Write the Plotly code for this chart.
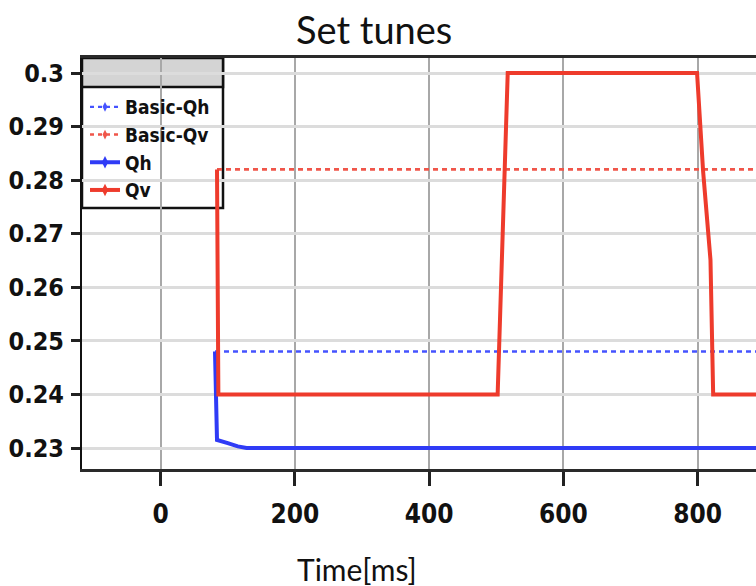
import plotly.graph_objects as go

# ---- data ----
basic_qh_x = [81, 890]
basic_qh_y = [0.248, 0.248]
basic_qv_x = [84, 890]
basic_qv_y = [0.282, 0.282]
qh_x = [81, 84, 100, 115, 128, 890]
qh_y = [0.248, 0.2315, 0.2309, 0.2303, 0.2300, 0.2300]
qv_x = [84, 86, 502, 517, 799, 808, 819, 823, 890]
qv_y = [0.282, 0.240, 0.240, 0.300, 0.300, 0.2817, 0.2651, 0.240, 0.240]

x_ticks = [0, 200, 400, 600, 800]
y_ticks = [0.23, 0.24, 0.25, 0.26, 0.27, 0.28, 0.29, 0.3]
y_tick_text = ["0.23", "0.24", "0.25", "0.26", "0.27", "0.28", "0.29", "0.3"]

BLUE = "#2f3bf6"
RED = "#ee3b2c"
DBLUE = "#4553ff"
DRED = "#f0564a"
TICKFONT = "DejaVu Sans Condensed, DejaVu Sans, sans-serif"
TITLEFONT = "Lato, Open Sans, sans-serif"

fig = go.Figure()
# data traces
fig.add_trace(go.Scatter(x=basic_qh_x, y=basic_qh_y, mode="lines", showlegend=False,
                         line=dict(color=DBLUE, width=2.6, dash="5px,4px")))
fig.add_trace(go.Scatter(x=basic_qv_x, y=basic_qv_y, mode="lines", showlegend=False,
                         line=dict(color=DRED, width=2.8, dash="5px,4px")))
fig.add_trace(go.Scatter(x=qh_x, y=qh_y, mode="lines", showlegend=False,
                         line=dict(color=BLUE, width=4)))
fig.add_trace(go.Scatter(x=qv_x, y=qv_y, mode="lines", showlegend=False,
                         line=dict(color=RED, width=4)))

# legend entries
legend_specs = [
    ("Basic-Qh", DBLUE, 2.4, "4px,4px", 7),
    ("Basic-Qv", DRED, 2.4, "4px,4px", 7),
    ("Qh", BLUE, 4, "solid", 9),
    ("Qv", RED, 4, "solid", 9),
]
for name, col, w, dash, ms in legend_specs:
    fig.add_trace(go.Scatter(x=[None], y=[None], mode="lines+markers", name=name,
                             line=dict(color=col, width=w, dash=dash),
                             marker=dict(symbol="diamond-tall", size=ms, color=col)))

# plot geometry (pixels)
W, H = 756, 586
L, T, R, B = 82, 58, 756, 469

def px(xp):
    return (xp - L) / (R - L)

def py(yp):
    return (B - yp) / (B - T)

shapes = [
    dict(type="rect", xref="paper", yref="paper", x0=px(82), x1=px(223), y0=py(208), y1=py(58),
         fillcolor="white", line=dict(color="#111", width=2.5), layer="below"),
    dict(type="rect", xref="paper", yref="paper", x0=px(82), x1=px(223), y0=py(87), y1=py(58),
         fillcolor="#d4d4d4", line=dict(color="#111", width=2.5), layer="below"),
]

annotations = [
    dict(text="Set tunes", xref="paper", yref="paper", x=px(374), y=py(29),
         showarrow=False, xanchor="center", yanchor="middle",
         font=dict(family=TITLEFONT, size=38, color="#111")),
    dict(text="Time[ms]", xref="paper", yref="paper", x=px(357), y=py(569),
         showarrow=False, xanchor="center", yanchor="middle",
         font=dict(family=TITLEFONT, size=30, color="#111")),
]

fig.update_layout(
    width=W, height=H,
    margin=dict(l=L, t=T, r=W - R, b=H - B, pad=0),
    paper_bgcolor="white", plot_bgcolor="white",
    showlegend=True,
    legend=dict(x=px(85), y=py(88), xanchor="left", yanchor="top",
                bgcolor="rgba(0,0,0,0)", borderwidth=0,
                font=dict(family=TICKFONT, size=19, color="#111", weight="bold"),
                tracegroupgap=0, itemwidth=30),
    shapes=shapes, annotations=annotations,
    xaxis=dict(range=[-117.1, 886.8], tickvals=x_ticks, ticktext=[str(v) for v in x_ticks],
               showgrid=True, gridcolor="#a8a8a8", gridwidth=1.5, zeroline=False,
               showline=True, linecolor="#2a2a2a", linewidth=3, mirror=True,
               ticks="outside", ticklen=14, tickwidth=2.5, tickcolor="#222",
               ticklabelstandoff=6,
               tickfont=dict(family=TICKFONT, size=26, color="#111", weight="bold")),
    yaxis=dict(range=[0.22608, 0.3028], tickvals=y_ticks, ticktext=y_tick_text,
               showgrid=True, gridcolor="#dcdcdc", gridwidth=3, zeroline=False,
               showline=True, linecolor="#111", linewidth=2, mirror=False,
               ticks="outside", ticklen=9, tickwidth=2.5, tickcolor="#222",
               ticklabelstandoff=2,
               tickfont=dict(family=TICKFONT, size=25, color="#111", weight="bold")),
)

fig.write_html("out.html")
